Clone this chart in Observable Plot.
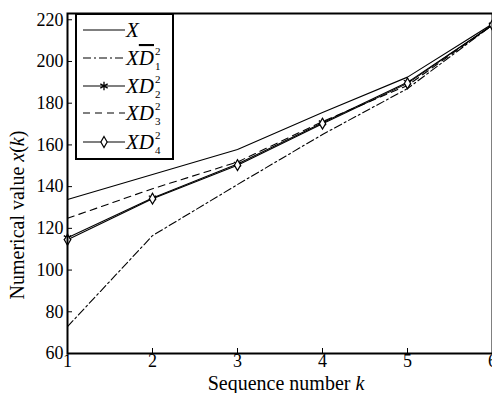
<!DOCTYPE html>
<html><head><meta charset="utf-8">
<script src="https://cdn.jsdelivr.net/npm/d3@7"></script>
<script src="https://cdn.jsdelivr.net/npm/@observablehq/plot@0.6"></script>
<style>
body{margin:0;background:#fff;}
#wrap{position:relative;width:492px;height:393px;overflow:hidden;font-family:"Liberation Serif",serif;background:#fff;}
</style></head><body><div id="wrap"></div>
<script>
const k = [1, 2, 3, 4, 5, 6];
const X   = [133.8, 145.8, 157.8, 175.5, 192.5, 218];
const XD1 = [72.9, 116.5, 141, 165, 187, 217.5];
const XD2 = [115.5, 134.6, 150.8, 170.6, 190, 217.5];
const XD3 = [124.8, 139, 151.8, 171.2, 188.5, 217.5];
const XD4 = [114.5, 134.2, 150.3, 170.2, 189.5, 217.5];
const yTicks = [60, 80, 100, 120, 140, 160, 180, 200, 220];
const xTicks = [1, 2, 3, 4, 5, 6];
const seriesNames = ["X", "XD1", "XD2", "XD3", "XD4"];
const seriesValues = [X, XD1, XD2, XD3, XD4];
const dashes = { X: null, XD1: "8,3,2,3", XD2: null, XD3: "7,5", XD4: null };

const rows = s => seriesValues[seriesNames.indexOf(s)].map((v, i) => ({ k: k[i], v }));

const plot = Plot.plot({
  width: 492, height: 393,
  marginLeft: 67, marginRight: 0, marginTop: 13, marginBottom: 40,
  style: { fontFamily: "Liberation Serif, serif", fontSize: "18px", background: "white", overflow: "visible" },
  x: { domain: [1, 6] },
  y: { domain: [60, 223] },
  marks: [
    Plot.axisX(xTicks, { tickSize: -5, tickPadding: 6, label: null, stroke: "black", strokeWidth: 1, fill: "black", tickFormat: d => String(d) }),
    Plot.axisY(yTicks, { tickSize: -5, tickPadding: 9, label: null, stroke: "black", strokeWidth: 1, fill: "black", tickFormat: d => String(d) }),
    ...seriesNames.map(s => Plot.line(rows(s), { x: "k", y: "v", stroke: "black", strokeWidth: 1.1, strokeDasharray: dashes[s] })),
    Plot.dot(rows("XD2"), { x: "k", y: "v", symbol: "asterisk", r: 4, stroke: "black", strokeWidth: 1.3 }),
    Plot.dot(rows("XD4"), { x: "k", y: "v", symbol: "diamond", r: 3.3, fill: "white", stroke: "black", strokeWidth: 1.2 }),
    Plot.frame({ stroke: "black", strokeWidth: 2 })
  ]
});
document.getElementById("wrap").appendChild(plot);

const svg = d3.select(plot);
// axis titles
const yl = svg.append("text")
  .attr("transform", "translate(24,215) rotate(-90)")
  .attr("text-anchor", "middle").attr("font-size", 20).attr("fill", "black");
yl.append("tspan").text("Numerical value ");
yl.append("tspan").attr("font-style", "italic").text("x");
yl.append("tspan").text("(");
yl.append("tspan").attr("font-style", "italic").text("k");
yl.append("tspan").text(")");

const xl = svg.append("text").attr("x", 286).attr("y", 390)
  .attr("text-anchor", "middle").attr("font-size", 20).attr("fill", "black");
xl.append("tspan").text("Sequence number ");
xl.append("tspan").attr("font-style", "italic").text("k");

// legend
const lg = svg.append("g").attr("text-anchor", "start");
lg.append("rect").attr("x", 76).attr("y", 14).attr("width", 97).attr("height", 145)
  .attr("fill", "white").attr("stroke", "black").attr("stroke-width", 2);
const ys = [30, 58, 86, 113, 142];
seriesNames.forEach((s, i) => {
  const y = ys[i];
  lg.append("line").attr("x1", 83).attr("x2", 125).attr("y1", y).attr("y2", y)
    .attr("stroke", "black").attr("stroke-width", 1.1).attr("stroke-dasharray", dashes[s]);
  if (s === "XD2") lg.append("path").attr("d", d3.symbol(d3.symbolAsterisk, 50)()).attr("transform", `translate(104,${y})`).attr("stroke", "black").attr("stroke-width", 1.3).attr("fill", "none");
  if (s === "XD4") lg.append("path").attr("d", d3.symbol(d3.symbolDiamond, 34)()).attr("transform", `translate(104,${y})`).attr("stroke", "black").attr("stroke-width", 1.2).attr("fill", "white");
  const t = lg.append("text").attr("x", 126).attr("y", y + 7).attr("font-size", 21).attr("font-style", "italic").attr("fill", "black");
  if (s === "X") { t.text("X"); return; }
  t.append("tspan").text("X");
  const d = t.append("tspan").text("D");
  if (s === "XD1") d.attr("text-decoration", "overline");
  const w = t.node().getComputedTextLength();
  lg.append("text").attr("x", 126 + w + 1).attr("y", y - 3).attr("font-size", 11).attr("fill", "black").text("2");
  lg.append("text").attr("x", 126 + w + 1).attr("y", y + 12).attr("font-size", 11).attr("fill", "black").text(s.slice(2));
});
</script></body></html>
